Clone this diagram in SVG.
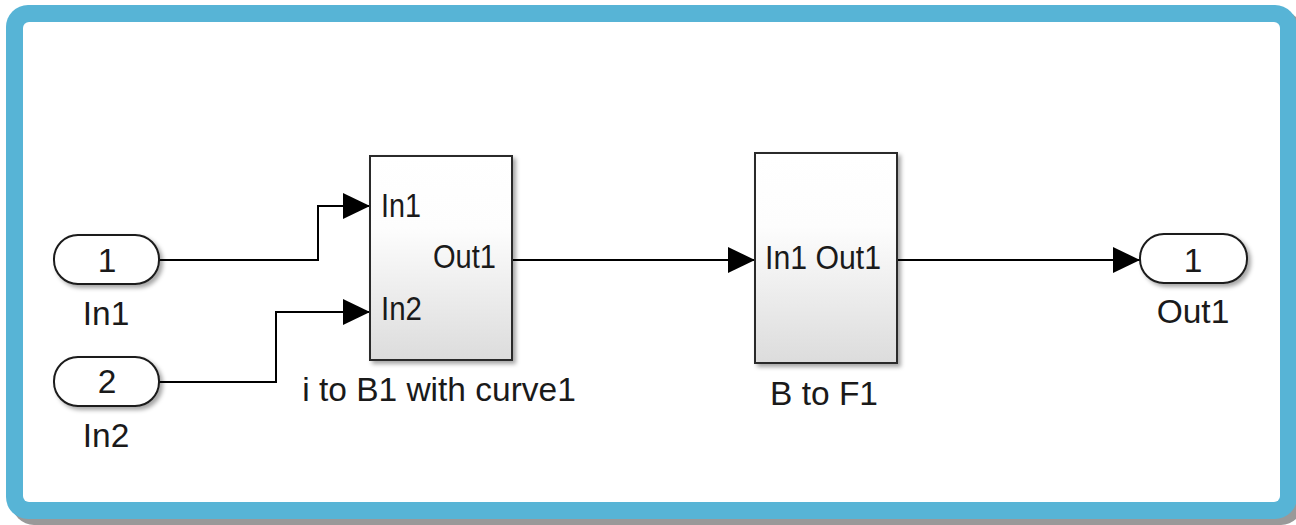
<svg xmlns="http://www.w3.org/2000/svg" width="1296" height="525" viewBox="0 0 1296 525">
  <style>
    text { font-family: "Liberation Sans", Arial, sans-serif; font-size: 33.5px; fill: #1a1a1a; }
    .mid { text-anchor: middle; }
    .end { text-anchor: end; }
    .block { fill: url(#blockFill); stroke: #2b2b2b; stroke-width: 2; filter: url(#shadow); }
    .port { fill: #ffffff; stroke: #1a1a1a; stroke-width: 2; filter: url(#shadow); }
    .wire { fill: none; stroke: #000000; stroke-width: 2; }
  </style>
  <defs>
    <linearGradient id="blockFill" x1="0" y1="0" x2="0" y2="1">
      <stop offset="0" stop-color="#ffffff"/>
      <stop offset="0.35" stop-color="#fdfdfd"/>
      <stop offset="1" stop-color="#dcdcdc"/>
    </linearGradient>
    <filter id="shadow" x="-10%" y="-10%" width="130%" height="130%">
      <feDropShadow dx="3" dy="3" stdDeviation="2" flood-color="#000000" flood-opacity="0.35"/>
    </filter>
    <marker id="arrow" markerWidth="27" markerHeight="26" refX="27" refY="13" orient="auto" markerUnits="userSpaceOnUse">
      <path d="M0,0 L27,13 L0,26 Z" fill="#000000"/>
    </marker>
  </defs>

  <!-- canvas frame -->
  <rect x="12" y="11" width="1291" height="514" rx="22" fill="#999999"/>
  <rect x="6" y="5" width="1291" height="514" rx="22" fill="#57b4d6"/>
  <rect x="23" y="22" width="1257" height="480" rx="6" fill="#ffffff"/>

  <!-- signal lines -->
  <g id="connectors">
    <path class="wire" d="M159,260 H318 V206 H370" marker-end="url(#arrow)"/>
    <path class="wire" d="M159,382 H276 V312 H370" marker-end="url(#arrow)"/>
    <path class="wire" d="M512,260 H755" marker-end="url(#arrow)"/>
    <path class="wire" d="M897,260 H1140" marker-end="url(#arrow)"/>
  </g>

  <g id="in1">
    <rect class="port" x="54" y="235" width="105" height="49" rx="24" ry="24"/>
    <text class="mid" x="107" y="272">1</text>
    <text class="mid" x="106" y="325">In1</text>
  </g>

  <g id="in2">
    <rect class="port" x="54" y="357" width="105" height="49" rx="24" ry="24"/>
    <text class="mid" x="107" y="393">2</text>
    <text class="mid" x="106" y="447">In2</text>
  </g>

  <g id="i-to-b1-with-curve1">
    <rect class="block" x="370" y="156" width="142" height="204"/>
    <text x="381" y="217" textLength="40" lengthAdjust="spacingAndGlyphs">In1</text>
    <text x="381" y="320" textLength="41" lengthAdjust="spacingAndGlyphs">In2</text>
    <text x="433" y="268" textLength="63" lengthAdjust="spacingAndGlyphs">Out1</text>
    <text class="mid" x="439" y="401">i to B1 with curve1</text>
  </g>

  <g id="b-to-f1">
    <rect class="block" x="755" y="153" width="142" height="210"/>
    <text x="765" y="269" textLength="116" lengthAdjust="spacingAndGlyphs">In1 Out1</text>
    <text class="mid" x="824" y="405">B to F1</text>
  </g>

  <g id="out1">
    <rect class="port" x="1140" y="234" width="107" height="49" rx="24" ry="24"/>
    <text class="mid" x="1193" y="272">1</text>
    <text class="mid" x="1193" y="323">Out1</text>
  </g>
</svg>
